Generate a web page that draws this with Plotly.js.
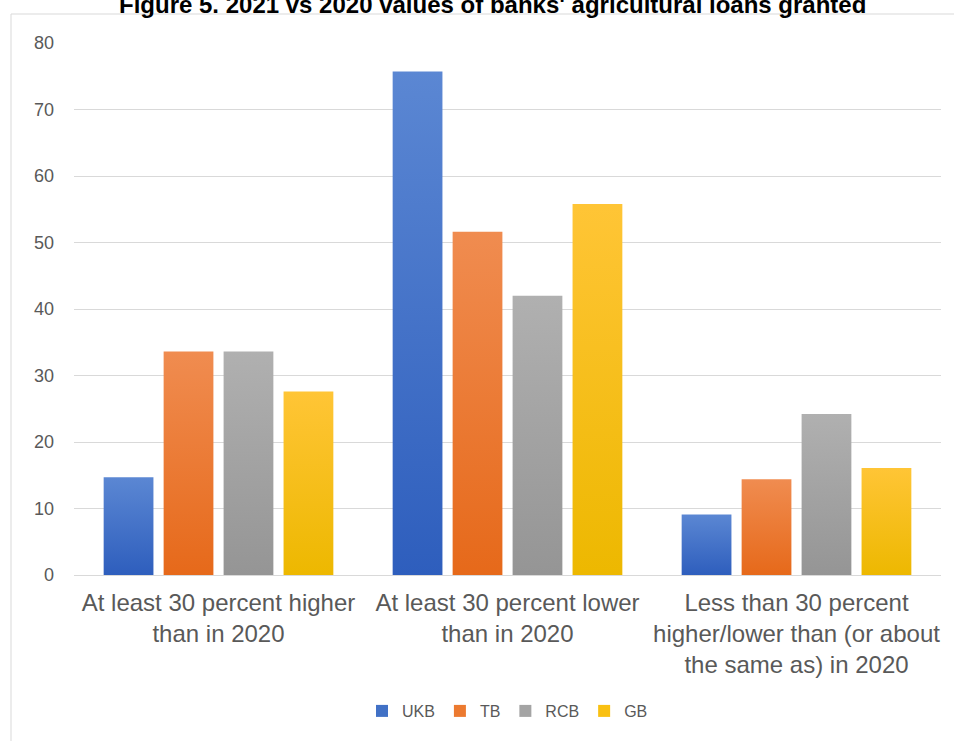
<!DOCTYPE html>
<html>
<head>
<meta charset="utf-8">
<script src="https://cdn.plot.ly/plotly-3.0.1.min.js"></script>
<style>
html,body{margin:0;padding:0;background:#fff;overflow:hidden;}
#chart{width:954px;height:741px;}
</style>
</head>
<body>
<div id="chart"></div>
<script>
const categories = [
  "At least 30 percent higher<br>than in 2020",
  "At least 30 percent lower<br>than in 2020",
  "Less than 30 percent<br>higher/lower than (or about<br>the same as) in 2020"
];
const seriesNames = ["UKB", "TB", "RCB", "GB"];
const UKB = [14.7, 75.7, 9.1];
const TB  = [33.6, 51.6, 14.4];
const RCB = [33.6, 42.0, 24.2];
const GB  = [27.6, 55.8, 16.1];
const yTicks = [0, 10, 20, 30, 40, 50, 60, 70, 80];

const values = [UKB, TB, RCB, GB];
const colors = ["#4171C6", "#EC7A30", "#A4A4A4", "#F9C012"];
const gradTop = ["#5B87D3", "#F08C50", "#B0B0B0", "#FFC536"];
const gradBot = ["#2E5EBD", "#E6691A", "#959595", "#EDB800"];

const traces = seriesNames.map((n, i) => ({
  type: "bar",
  name: n,
  x: [0, 1, 2],
  y: values[i],
  marker: {color: colors[i], line: {width: 0}},
  hoverinfo: "y+name"
}));

const W = 954, H = 741;
const m = {l: 74, r: 13, t: 43, b: 166};
const pw = W - m.l - m.r, ph = H - m.t - m.b;
function px2paperX(x){ return (x - m.l) / pw; }
function px2paperY(y){ return (H - m.b - y) / ph; }

const layout = {
  width: W, height: H,
  margin: m,
  paper_bgcolor: "#ffffff",
  plot_bgcolor: "#ffffff",
  font: {family: "Liberation Sans, Arial, sans-serif", color: "#595959"},
  barmode: "group",
  bargap: 0.17,
  bargroupgap: 0.17,
  xaxis: {
    tickmode: "array",
    tickvals: [0, 1, 2],
    ticktext: categories,
    range: [-0.5, 2.5],
    showgrid: false,
    showline: true,
    linecolor: "#d9d9d9",
    linewidth: 1,
    ticks: "",
    ticklabelstandoff: 6,
    tickfont: {size: 24, color: "#595959", family: "Liberation Sans, Arial, sans-serif"},
    fixedrange: true
  },
  yaxis: {
    range: [0, 80],
    tickmode: "array",
    tickvals: yTicks,
    ticktext: yTicks.map(String),
    showgrid: true,
    gridcolor: "#d9d9d9",
    gridwidth: 1,
    zeroline: false,
    showline: false,
    ticks: "",
    ticklabelstandoff: 19,
    tickfont: {size: 18, color: "#595959"},
    fixedrange: true
  },
  showlegend: true,
  legend: {
    orientation: "h",
    x: 0.5, xanchor: "center",
    y: px2paperY(711), yanchor: "middle",
    font: {size: 16, color: "#595959"},
    itemwidth: 30,
    traceorder: "normal"
  },
  annotations: [{
    text: "<b>Figure 5. 2021 vs 2020 values of banks' agricultural loans granted</b>",
    xref: "paper", yref: "paper",
    x: px2paperX(492), xanchor: "center",
    y: px2paperY(4), yanchor: "middle",
    showarrow: false,
    font: {family: "Liberation Sans, Arial, sans-serif", size: 24, color: "#000"}
  }],
  shapes: [{
    type: "rect", xref: "paper", yref: "paper",
    x0: px2paperX(11), x1: px2paperX(960),
    y0: px2paperY(745), y1: px2paperY(14),
    line: {color: "#d9d9d9", width: 1},
    fillcolor: "rgba(0,0,0,0)",
    layer: "below"
  }]
};

Plotly.newPlot("chart", traces, layout, {displayModeBar: false, staticPlot: true}).then(gd => {
  // vertical colour gradient on the bars, like the original Office chart
  const svg = gd.querySelector("svg.main-svg");
  const ns = "http://www.w3.org/2000/svg";
  let defs = svg.querySelector("defs");
  if (!defs) { defs = document.createElementNS(ns, "defs"); svg.insertBefore(defs, svg.firstChild); }
  seriesNames.forEach((n, i) => {
    const lg = document.createElementNS(ns, "linearGradient");
    lg.setAttribute("id", "barGrad" + i);
    lg.setAttribute("x1", "0"); lg.setAttribute("y1", "0");
    lg.setAttribute("x2", "0"); lg.setAttribute("y2", "1");
    [[0, gradTop[i]], [1, gradBot[i]]].forEach(([o, c]) => {
      const s = document.createElementNS(ns, "stop");
      s.setAttribute("offset", o); s.setAttribute("stop-color", c);
      lg.appendChild(s);
    });
    defs.appendChild(lg);
  });
  gd.querySelectorAll(".barlayer .trace.bars").forEach((tr, i) => {
    tr.querySelectorAll("path").forEach(p => { p.style.fill = "url(#barGrad" + i + ")"; });
  });
});
</script>
</body>
</html>
